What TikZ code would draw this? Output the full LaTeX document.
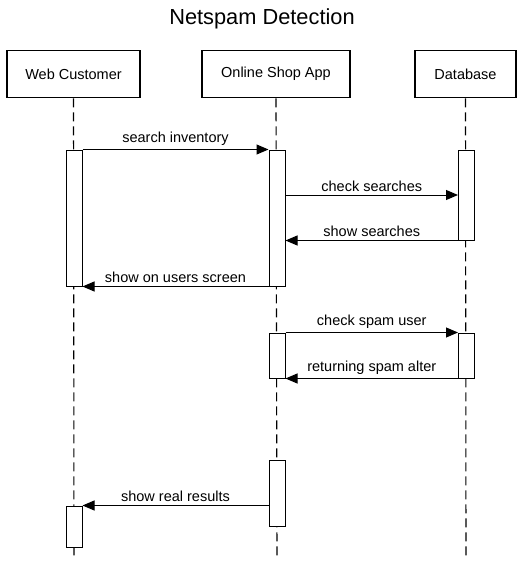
\documentclass[tikz,border=0pt]{standalone}
\usepackage{fontspec}
\setmainfont{Liberation Sans}
\usetikzlibrary{arrows.meta}

\begin{document}
\begin{tikzpicture}
  [x=1pt,y=-1pt,
   actor/.style={draw,line width=1.6pt,minimum height=47pt,inner sep=0pt,font=\fontsize{14.5}{17}\selectfont},
   act/.style={draw,fill=white,line width=1pt,minimum width=16pt,inner sep=0pt},
   life/.style={line width=1.1pt,dash pattern=on 9pt off 5pt},
   msg/.style={line width=1pt,-{Triangle[length=12pt,width=10pt]}},
   lbl/.style={above,inner sep=0pt,yshift=3pt,font=\fontsize{14.5}{17}\selectfont}]
  \useasboundingbox (0,0) rectangle (524,563);

  \node (title) at (262,19) {\fontsize{21.8}{26}\selectfont Netspam Detection};

  \node[actor,minimum width=133pt] (wc) at (73.5,74) {Web Customer};
  \node[actor,minimum width=148pt] (sa) at (276,74) {Online Shop App};
  \node[actor,minimum width=101pt] (db) at (465.5,74) {Database};

  \coordinate (wcend) at (74,558);
  \coordinate (saend) at (277,558);
  \coordinate (dbend) at (466,558);
  \foreach \from/\to in {wc/wcend,sa/saend,db/dbend}
    \draw[life] (\from.south |- \from.south) -- (\to);

  \node[act,minimum height=136pt] (wc1) at (74,218) {};
  \node[act,minimum height=41pt] (wc2) at (74,526.5) {};
  \node[act,minimum height=136pt] (sa1) at (277,218) {};
  \node[act,minimum height=45pt] (sa2) at (277,355.5) {};
  \node[act,minimum height=66pt] (sa3) at (277,493) {};
  \node[act,minimum height=90pt] (db1) at (466.5,195) {};
  \node[act,minimum height=45pt] (db2) at (466.5,355.5) {};

  \draw[msg] (wc1.north east) -- node[lbl] {search inventory} (sa1.north west);
  \draw[msg] (sa1.east |- db1.west) -- node[lbl] {check searches} (db1.west);
  \draw[msg] (db1.south west) -- node[lbl] {show searches} (sa1.east |- db1.south);
  \draw[msg] (sa1.south west) -- node[lbl] {show on users screen} (wc1.south east);
  \draw[msg] (sa2.north east) -- node[lbl] {check spam user} (db2.north west);
  \draw[msg] (db2.south west) -- node[lbl] {returning spam alter} (sa2.south east);
  \draw[msg] (sa3.west |- wc2.north) -- node[lbl] {show real results} (wc2.north east);

\end{tikzpicture}
\end{document}
